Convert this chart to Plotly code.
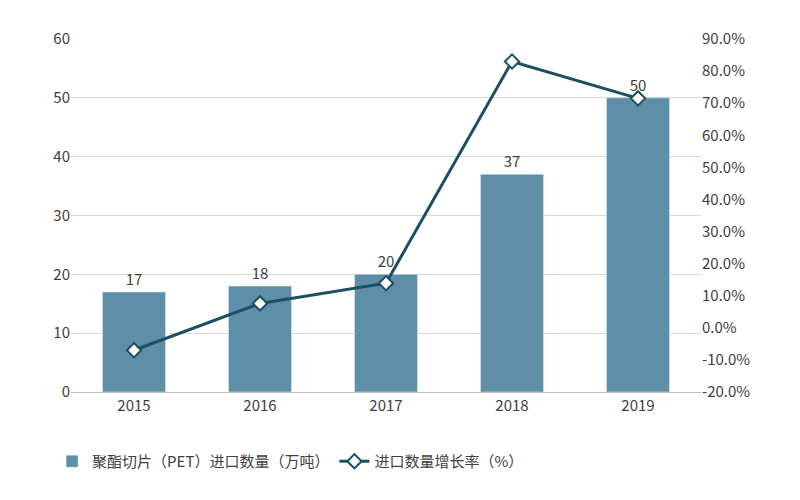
import plotly.graph_objects as go

years = ["2015", "2016", "2017", "2018", "2019"]
qty = [17, 18, 20, 37, 50]
growth = [-7.0, 7.6, 13.9, 83.0, 71.5]
ticks_r = [-20, -10, 0, 10, 20, 30, 40, 50, 60, 70, 80, 90]

fig = go.Figure()
fig.add_trace(go.Bar(x=years, y=qty, name="聚酯切片（PET）进口数量（万吨）",
                     marker_color="#5f8fa6", width=0.5,
                     text=qty, textposition="outside",
                     textfont=dict(size=15, color="#404040")))
fig.add_trace(go.Scatter(x=years, y=growth, yaxis="y2", name="进口数量增长率（%）",
                         mode="lines+markers",
                         line=dict(color="#1c4f63", width=3),
                         marker=dict(symbol="diamond", size=11, color="white",
                                     line=dict(color="#1c4f63", width=2))))
fig.update_layout(
    width=800, height=500, paper_bgcolor="white", plot_bgcolor="white",
    margin=dict(l=63, r=107, t=31, b=116),
    font=dict(family="Noto Sans CJK SC", size=15, color="#404040"),
    yaxis=dict(range=[0, 60], dtick=10, showgrid=True, gridcolor="#d9d9d9",
               zeroline=False, ticks=""),
    yaxis2=dict(range=[-20, 90], overlaying="y", side="right",
                tickvals=ticks_r, ticktext=[f"{v:.1f}%" for v in ticks_r],
                showgrid=False, zeroline=False),
    xaxis=dict(showline=True, linecolor="#bfbfbf"),
    legend=dict(orientation="h", x=-0.03, y=-0.15, xanchor="left", yanchor="top",
                font=dict(size=15)),
)
fig.write_html("out.html")
